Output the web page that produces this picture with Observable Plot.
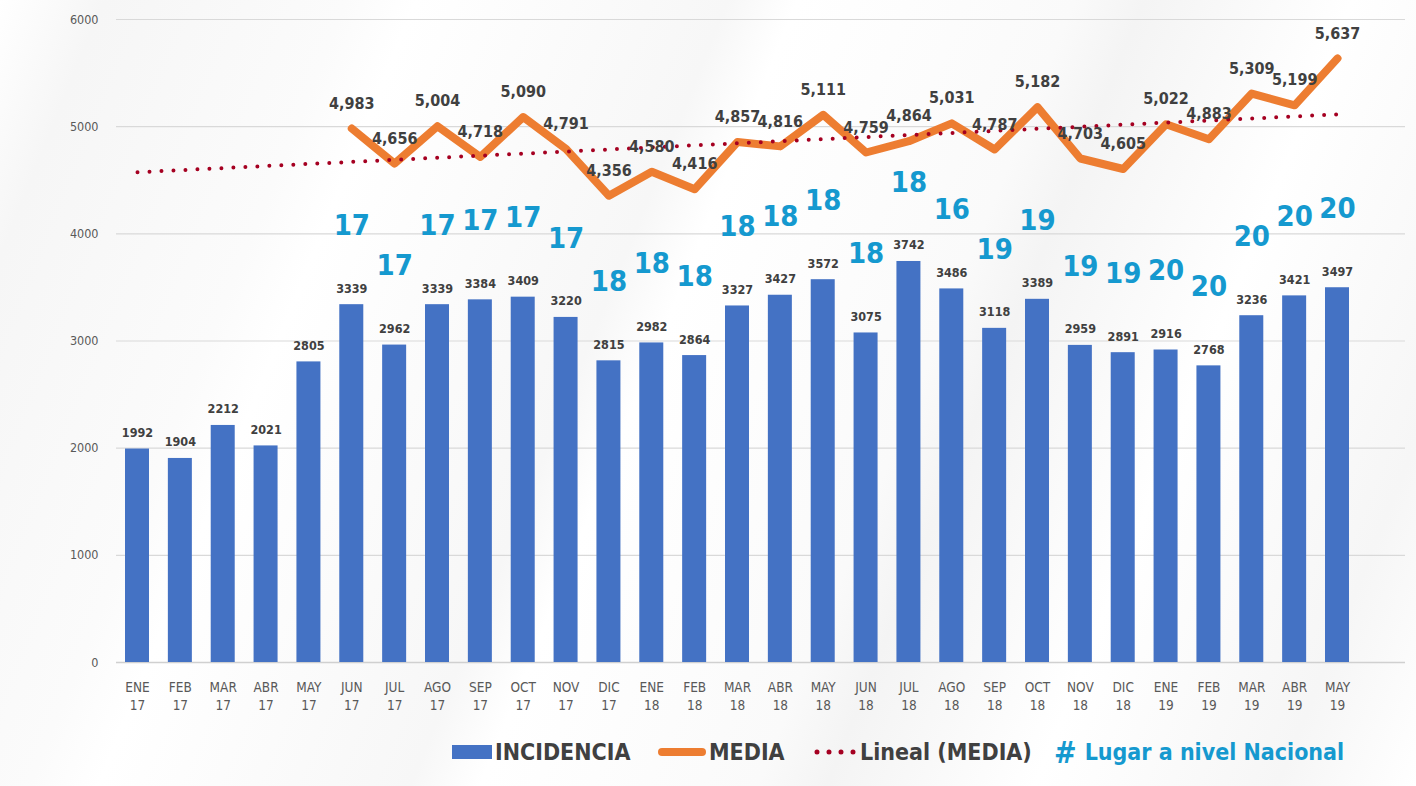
<!DOCTYPE html>
<html>
<head>
<meta charset="utf-8">
<script src="https://cdn.jsdelivr.net/npm/d3@7"></script>
<script src="https://cdn.jsdelivr.net/npm/@observablehq/plot@0.6"></script>
<style>
  html, body { margin: 0; padding: 0; }
  body { width: 1416px; height: 786px; overflow: hidden; background: #ffffff; }
  #wrap {
    position: relative; width: 1416px; height: 786px;
    background: linear-gradient(112deg, #ffffff 0%, #f6f6f6 6%, #fbfbfb 20%, #ffffff 24%, #f7f7f7 42%, #ffffff 46%, #fafafa 62%, #f4f4f4 66%, #ffffff 78%, #f6f6f6 92%, #ffffff 100%);
  }
  #chart { position: absolute; left: 0; top: 0; }
  #legend { position: absolute; left: 0; top: 730px; width: 1416px; height: 44px; }
  .item { position: absolute; top: 0; height: 44px; display: flex; align-items: center;
          font-family: "Liberation Sans Narrow", "DejaVu Sans Condensed", Roboto, sans-serif;
          font-weight: bold; font-size: 23px; color: #404040; white-space: nowrap; }
  .item svg { margin-right: 3px; }
</style>
</head>
<body>
<div id="wrap">
  <div id="chart"></div>
  <div id="legend"></div>
</div>
<script>
// ---- data ----
const months = ["ENE","FEB","MAR","ABR","MAY","JUN","JUL","AGO","SEP","OCT","NOV","DIC",
                "ENE","FEB","MAR","ABR","MAY","JUN","JUL","AGO","SEP","OCT","NOV","DIC",
                "ENE","FEB","MAR","ABR","MAY"];
const years = ["17","17","17","17","17","17","17","17","17","17","17","17",
               "18","18","18","18","18","18","18","18","18","18","18","18",
               "19","19","19","19","19"];
const incidencia = [1992,1904,2212,2021,2805,3339,2962,3339,3384,3409,3220,2815,
                    2982,2864,3327,3427,3572,3075,3742,3486,3118,3389,2959,2891,
                    2916,2768,3236,3421,3497];
const media = [null,null,null,null,null,4983,4656,5004,4718,5090,4791,4356,
               4580,4416,4857,4816,5111,4759,4864,5031,4787,5182,4703,4605,
               5022,4883,5309,5199,5637];
const lugar = [null,null,null,null,null,17,17,17,17,17,17,18,
               18,18,18,18,18,18,18,16,19,19,19,19,
               20,20,20,20,20];
const tendenciaInicio = 4575;   // Lineal (MEDIA) at ENE 17
const tendenciaFin = 5115;      // Lineal (MEDIA) at MAY 19
const yTicks = [0,1000,2000,3000,4000,5000,6000];
const legendLabels = ["INCIDENCIA","MEDIA","Lineal (MEDIA)","Lugar a nivel Nacional"];

// ---- build ----
const rows = months.map((m, i) => ({cat: m + "\n" + years[i], inc: incidencia[i], med: media[i], rank: lugar[i]}));
const medRows = rows.filter(d => d.med != null);
const rankRows = rows.filter(d => d.rank != null);
const trend = [{cat: rows[0].cat, v: tendenciaInicio}, {cat: rows[rows.length - 1].cat, v: tendenciaFin}];

const BLUE = "#4472C4", ORANGE = "#ED7D31", RED = "#A50021", CYAN = "#1599CF", TXT = "#404040";
const baseFont = "'Liberation Sans Narrow', 'DejaVu Sans Condensed', Roboto, sans-serif";

const chart = Plot.plot({
  width: 1416, height: 730,
  marginTop: 19, marginBottom: 68, marginLeft: 116, marginRight: 11,
  style: {background: "transparent", fontFamily: baseFont, color: "#595959"},
  x: {domain: rows.map(d => d.cat), range: [116, 1358], paddingInner: 0.44, paddingOuter: 0.21,
      align: 0.5, round: false},
  y: {domain: [0, 6000]},
  marks: [
    Plot.ruleY(yTicks.filter(t => t > 0), {stroke: "#d9d9d9", strokeWidth: 1.2}),
    Plot.ruleY([0], {stroke: "#d0d0d0", strokeWidth: 1.5}),
    Plot.barY(rows, {x: "cat", y: "inc", fill: BLUE}),
    Plot.text(rows, {x: "cat", y: "inc", text: d => String(d.inc), dy: -12, lineAnchor: "bottom",
                     fontSize: 12.5, fontWeight: "bold", fill: TXT}),
    Plot.line(medRows, {x: "cat", y: "med", stroke: ORANGE, strokeWidth: 8,
                        strokeLinejoin: "round", strokeLinecap: "round"}),
    Plot.line(trend, {x: "cat", y: "v", stroke: RED, strokeWidth: 4,
                      strokeDasharray: "0 12", strokeLinecap: "round"}),
    Plot.text(medRows, {x: "cat", y: "med", text: d => d3.format(",")(d.med), dy: -25,
                        fontSize: 16, fontWeight: "bold", fill: TXT}),
    Plot.text(rankRows, {x: "cat", y: "inc", text: d => String(d.rank), dy: -79,
                         fontSize: 29, fontWeight: "bold", fill: CYAN}),
    Plot.axisY({ticks: yTicks, tickSize: 0, tickPadding: 18, tickFormat: d => String(d),
                fontSize: 12.5, label: null}),
    Plot.axisX({tickSize: 0, tickPadding: 17, fontSize: 13.5, lineHeight: 1.3, label: null,
                tickFormat: d => d})
  ]
});
document.getElementById("chart").appendChild(chart);

// ---- legend ----
const legend = document.getElementById("legend");
function item(left, swatch, label, color) {
  const el = document.createElement("div");
  el.className = "item";
  el.style.left = left + "px";
  if (color) el.style.color = color;
  el.innerHTML = swatch + "<span>" + label + "</span>";
  legend.appendChild(el);
}
item(452, `<svg width="40" height="14"><rect x="0" y="0" width="40" height="14" fill="${BLUE}"/></svg>`, legendLabels[0]);
item(658, `<svg width="48" height="14"><line x1="4" y1="7" x2="44" y2="7" stroke="${ORANGE}" stroke-width="8" stroke-linecap="round"/></svg>`, legendLabels[1]);
item(813, `<svg width="44" height="14"><line x1="4" y1="7" x2="42" y2="7" stroke="${RED}" stroke-width="5" stroke-dasharray="0 12" stroke-linecap="round"/></svg>`, legendLabels[2]);
item(1054, `<span style="color:${CYAN};font-size:30px;margin-right:8px">#</span>`, legendLabels[3], CYAN);
</script>
</body>
</html>
